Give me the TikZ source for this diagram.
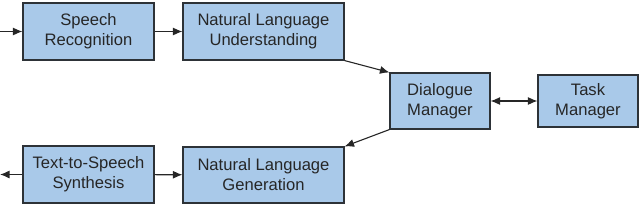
\documentclass[tikz,border=0pt]{standalone}
\usepackage{fontspec}
\setmainfont{Liberation Sans}
\usetikzlibrary{arrows.meta,shadows}
\definecolor{boxfill}{RGB}{169,201,233}
\definecolor{boxline}{RGB}{45,50,55}
\begin{document}
\begin{tikzpicture}[x=1pt,y=-1pt,
  blk/.style={draw=boxline,line width=1.1pt,fill=boxfill,inner sep=0pt,
    align=center,font=\fontsize{16.6}{20}\selectfont,text=black!85,
    drop shadow={shadow xshift=1.3pt,shadow yshift=-1.3pt,opacity=0.55,fill=black}},
  conn/.style={line width=1.1pt,draw=black!85,-{Latex[length=9.5pt,width=8pt]}},
  bconn/.style={line width=1.1pt,draw=black!85,{Latex[length=9.5pt,width=8pt]}-{Latex[length=9.5pt,width=8pt]}}]
\useasboundingbox (0,0) rectangle (640,218);
\node[blk,minimum width=131pt,minimum height=57pt] (sr) at (88.5,31.5) {Speech\\Recognition};
\node[blk,minimum width=161pt,minimum height=57pt] (nlu) at (263.5,31.5) {Natural Language\\Understanding};
\node[blk,minimum width=100pt,minimum height=56pt] (dm) at (440,101) {Dialogue\\Manager};
\node[blk,minimum width=100pt,minimum height=52pt] (tm) at (588,101) {Task\\Manager};
\node[blk,minimum width=131pt,minimum height=57pt] (tts) at (88.5,174.5) {Text-to-Speech\\Synthesis};
\node[blk,minimum width=161pt,minimum height=56pt] (nlg) at (263.5,175) {Natural Language\\Generation};
\coordinate (in) at (0,31.5);
\coordinate (out) at (0,174.5);
\draw[conn] (in) -- (sr);
\draw[conn] (sr) -- (nlu);
\draw[conn] (nlu.south east) -- (dm.north west);
\draw[bconn] (dm) -- (tm);
\draw[conn] (dm.south west) -- (nlg.north east);
\draw[conn] (tts) -- (nlg);
\draw[conn] (tts) -- (out);
\end{tikzpicture}
\end{document}
